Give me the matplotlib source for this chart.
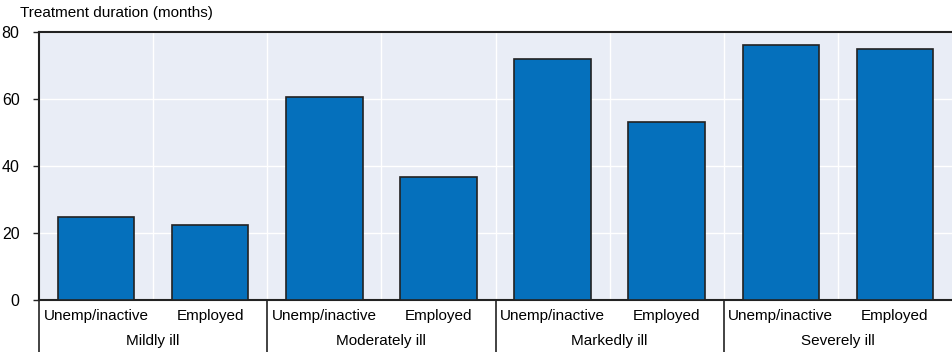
import matplotlib
matplotlib.use("Agg")
import matplotlib.pyplot as plt
import matplotlib.transforms as mtransforms

plt.rcParams["font.family"] = ["Liberation Sans", "DejaVu Sans"]

groups = ["Mildly ill", "Moderately ill", "Markedly ill", "Severely ill"]
status = ["Unemp/inactive", "Employed"]
unemp_inactive = [24.9, 60.6, 71.9, 76.1]
employed = [22.5, 36.8, 53.2, 75.0]
y_ticks = [0, 20, 40, 60, 80]

values = []
labels = []
for u, e in zip(unemp_inactive, employed):
    values += [u, e]
    labels += status
xpos = list(range(len(values)))

fig = plt.figure(figsize=(9.52, 3.52), dpi=100)
ax = fig.add_axes([0.041, 0.148, 0.959, 0.761])
ax.set_facecolor("#e9edf6")

ax.bar(xpos, values, width=0.67, color="#0570bc", edgecolor="#222222", linewidth=1.2, zorder=3)

ax.set_xlim(-0.5, len(values) - 0.5)
ax.set_ylim(0, 80)
ax.set_yticks(y_ticks)
ax.set_yticklabels([str(t) for t in y_ticks], fontsize=11.5)
ax.tick_params(axis="y", length=4, width=1, color="#222222", pad=10)

# white grid lines, horizontal on ticks, vertical between bars
ax.set_xticks([x + 0.5 for x in xpos[:-1]], minor=True)
ax.set_xticks([])
ax.grid(axis="y", color="white", linewidth=1, zorder=0)
ax.grid(axis="x", which="minor", color="white", linewidth=1, zorder=0)
ax.tick_params(axis="x", which="both", length=0)

for side in ["left", "top", "bottom"]:
    ax.spines[side].set_color("#222222")
    ax.spines[side].set_linewidth(1.5)
ax.spines["right"].set_visible(False)

trans = mtransforms.blended_transform_factory(ax.transData, ax.transAxes)
bottom = -0.148 / 0.761
for x, lab in zip(xpos, labels):
    ax.text(x, -0.06, lab, transform=trans, ha="center", va="center", fontsize=11)
for i, g in enumerate(groups):
    ax.text(2 * i + 0.5, -0.155, g, transform=trans, ha="center", va="center", fontsize=11)
for i in range(len(groups)):
    ax.plot([2 * i - 0.5, 2 * i - 0.5], [0, bottom], transform=trans, color="#222222",
            linewidth=1.2, clip_on=False)

fig.text(0.021, 0.962, "Treatment duration (months)", ha="left", va="center", fontsize=11)

fig.savefig("out.png", dpi=100)
